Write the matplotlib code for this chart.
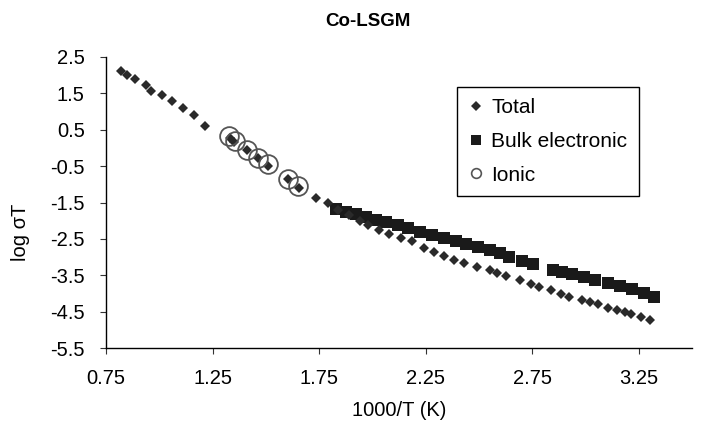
import matplotlib
matplotlib.use("Agg")
import matplotlib.pyplot as plt
from matplotlib.lines import Line2D

plt.rcParams['font.family'] = ['Liberation Sans', 'DejaVu Sans']
plt.rcParams['axes.unicode_minus'] = False

# Total conductivity (diamonds)
total_x = [0.819, 0.847, 0.888, 0.936, 0.961, 1.012, 1.061, 1.110, 1.165, 1.215,
           1.332, 1.351, 1.411, 1.465, 1.512, 1.606, 1.656, 1.734, 1.791, 1.839,
           1.891, 1.942, 1.981, 2.032, 2.079, 2.134, 2.185, 2.243, 2.290, 2.338,
           2.385, 2.432, 2.493, 2.550, 2.587, 2.628, 2.694, 2.744, 2.783, 2.838,
           2.886, 2.925, 2.983, 3.022, 3.061, 3.108, 3.148, 3.187, 3.213, 3.262,
           3.304]
total_y = [2.12, 2.01, 1.89, 1.74, 1.56, 1.46, 1.28, 1.10, 0.90, 0.61,
           0.28, 0.17, -0.06, -0.28, -0.50, -0.86, -1.09, -1.37, -1.52, -1.70,
           -1.84, -2.00, -2.12, -2.25, -2.36, -2.48, -2.57, -2.75, -2.85, -2.97,
           -3.07, -3.15, -3.26, -3.35, -3.44, -3.52, -3.63, -3.74, -3.81, -3.90,
           -4.01, -4.09, -4.18, -4.23, -4.29, -4.40, -4.45, -4.50, -4.56, -4.64,
           -4.73]

# Bulk electronic (squares)
bulk_x = [1.830, 1.877, 1.924, 1.971, 2.018, 2.065, 2.121, 2.168, 2.224, 2.281,
          2.337, 2.393, 2.440, 2.496, 2.553, 2.600, 2.639, 2.702, 2.753, 2.847,
          2.889, 2.936, 2.991, 3.046, 3.108, 3.163, 3.218, 3.273, 3.320]
bulk_y = [-1.68, -1.75, -1.82, -1.90, -1.97, -2.04, -2.13, -2.21, -2.30, -2.39,
          -2.47, -2.56, -2.64, -2.73, -2.80, -2.89, -3.01, -3.12, -3.19, -3.35,
          -3.40, -3.46, -3.54, -3.63, -3.72, -3.79, -3.88, -3.98, -4.10]

# Ionic (open circles)
ionic_x = [1.327, 1.356, 1.411, 1.462, 1.512, 1.603, 1.653]
ionic_y = [0.33, 0.20, -0.06, -0.28, -0.45, -0.86, -1.06]

xticks = [0.75, 1.25, 1.75, 2.25, 2.75, 3.25]
yticks = [2.5, 1.5, 0.5, -0.5, -1.5, -2.5, -3.5, -4.5, -5.5]

W, H = 701, 422
fig = plt.figure(figsize=(W / 100, H / 100), dpi=100)
ax = fig.add_axes([106 / W, 1 - 348 / H, (692 - 106) / W, (348 - 57) / H])

ax.plot(bulk_x, bulk_y, ls='none', marker='s', ms=8.4, mew=0, color='#1a1a1a', zorder=3)
ax.plot(total_x, total_y, ls='none', marker='D', ms=4.7, mew=0, color='#2a2a2a', zorder=4)
ax.plot(ionic_x, ionic_y, ls='none', marker='o', ms=13.5, mfc='none', mec='#555555',
        mew=1.3, zorder=5)

ax.set_xlim(0.75, 3.5)
ax.set_ylim(-5.5, 2.5)
ax.set_xticks(xticks)
ax.set_xticklabels(['%.2f' % v for v in xticks])
ax.set_yticks(yticks)
ax.set_yticklabels(['%.1f' % v for v in yticks])
ax.tick_params(axis='both', direction='out', length=4.3, width=0.8, color='#333333',
               labelsize=14.5)
ax.tick_params(axis='x', pad=11)
ax.tick_params(axis='y', pad=11)
for s in ['top', 'right']:
    ax.spines[s].set_visible(False)
for s in ['left', 'bottom']:
    ax.spines[s].set_linewidth(1.0)
    ax.spines[s].set_color('black')

fig.text(368 / W, 1 - 22 / H, 'Co-LSGM', ha='center', va='center',
         fontsize=13.5, fontweight='bold')
fig.text(399 / W, 1 - 411 / H, '1000/T (K)', ha='center', va='center', fontsize=14.5)
fig.text(20 / W, 1 - 232 / H, 'log σT', ha='center', va='center', rotation=90,
         fontsize=14.5)

handles = [
    Line2D([], [], ls='none', marker='D', ms=5.2, mew=0, color='#2a2a2a'),
    Line2D([], [], ls='none', marker='s', ms=7.5, mew=0, color='#1a1a1a'),
    Line2D([], [], ls='none', marker='o', ms=7, mfc='none', mec='#555555', mew=1.2),
]
leg = fig.legend(handles, ['Total', 'Bulk electronic', 'Ionic'],
                 loc='upper left', bbox_to_anchor=(457 / W, 1 - 87 / H),
                 frameon=True, fancybox=False, framealpha=1, edgecolor='black',
                 fontsize=15, handlelength=0.7, handletextpad=0.4,
                 labelspacing=0.7, borderpad=0.55, borderaxespad=0)
leg.get_frame().set_linewidth(1.0)

fig.savefig('out.png', dpi=100)
